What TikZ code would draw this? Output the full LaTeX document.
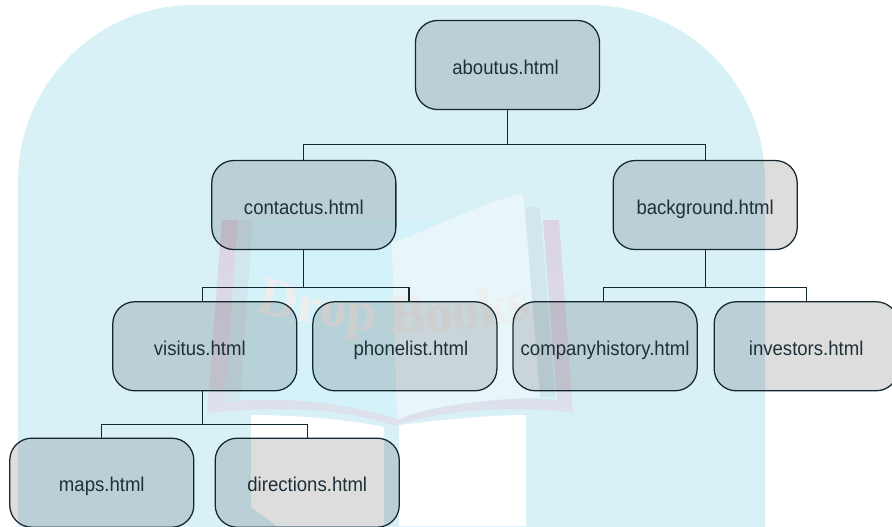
\documentclass[tikz,border=0pt]{standalone}
\usepackage{fontspec}
\usetikzlibrary{decorations.text}
\setmainfont[FakeStretch=0.93]{Liberation Sans}
\newfontfamily\stampfont{Liberation Serif}
\definecolor{myblue}{HTML}{D8F1F7}
\definecolor{mydark}{HTML}{14272E}
\definecolor{mytext}{HTML}{1E3038}
\definecolor{mypinktop}{HTML}{DCD4E2}
\definecolor{mypinkend}{HTML}{DDE2EC}
\definecolor{mypage}{HTML}{D4F2FA}
\definecolor{mysheet}{HTML}{E8F6FA}
\definecolor{myedge}{HTML}{D2E7ED}
\definecolor{mystamp}{HTML}{EDEFEF}
\tikzstyle{block} = [rectangle, draw=mydark, fill=black, fill opacity=0.135, draw opacity=1, text opacity=1, text=mytext, align=center, rounded corners=0.55cm, minimum width=4.6cm, minimum height=2.225cm, line width=0.9pt, font=\fontsize{14.2}{16}\selectfont, text height=0.45cm, text depth=0pt]
\tikzstyle{line} = [draw=mydark, line width=0.9pt]

\begin{document}
\begin{tikzpicture}[x=0.025cm, y=-0.025cm, node distance=3.5cm]
    \clip (0,0) rectangle (892,526);

    % backdrop
    \fill[myblue, rounded corners=4.4cm] (18,5) rectangle (765,800);
    \fill[white] (251,415) .. controls (300,415) and (350,420) .. (384,427) -- (384,526) -- (277,526) -- (251,507) -- cycle;
    \fill[white] (399,425) .. controls (440,420) and (490,415) .. (526,415) -- (526,526) -- (399,526) -- cycle;
    \shade[top color=mypinktop, bottom color=mypinkend] (222,220) -- (207,413) .. controls (290,405) and (350,410) .. (395,426) .. controls (440,410) and (510,405) .. (573,413) -- (559,220) -- cycle;
    \fill[mypage] (238,220) -- (225,402) .. controls (290,395) and (350,405) .. (395,418) .. controls (440,405) and (510,395) .. (557,400) -- (543,220) -- cycle;
    \fill[myedge] (238,220) -- (253,220) -- (240,400) -- (225,402) -- cycle;
    \fill[myedge] (525,207) -- (540,207) -- (555,397) -- (540,397) -- cycle;
    \fill[mysheet] (392,243) .. controls (440,225) and (490,200) .. (523,193) -- (540,397) .. controls (480,400) and (430,405) .. (397,420) -- cycle;
    \path[decorate, decoration={text along path, text align=center, text color=mystamp,
        text={|\stampfont\bfseries\fontsize{39}{40}\selectfont|Drop Books}}]
        (248,310) .. controls (325,330) and (430,345) .. (540,316);

    % Nodes
    \node [block] (aboutus) at (507.5,65) {aboutus.html\hspace*{0.1cm}};
    \node [block, below of=aboutus, xshift=-5.09cm] (contactus) {contactus.html};
    \node [block, below of=aboutus, xshift=4.94cm] (background) {background.html};
    \node [block, below of=contactus, xshift=-2.475cm, yshift=-0.03cm] (visitus) {visitus.html\hspace*{0.25cm}};
    \node [block, below of=contactus, xshift=2.525cm, yshift=-0.03cm] (phonelist) {\hspace*{0.3cm}phonelist.html};
    \node [block, below of=background, xshift=-2.5cm, yshift=-0.03cm] (companyhistory) {companyhistory.html};
    \node [block, below of=background, xshift=2.525cm, yshift=-0.03cm] (investors) {investors.html};
    \node [block, below of=visitus, xshift=-2.575cm, yshift=0.09cm] (maps) {maps.html};
    \node [block, below of=visitus, xshift=2.56cm, yshift=0.09cm] (directions) {directions.html};

    % connectors
    \draw[line] (aboutus.south) -- ++(0,34) -| (contactus.north);
    \draw[line] (aboutus.south) -- ++(0,34) -| (background.north);
    \draw[line] (contactus.south) -- ++(0,37) -| ([xshift=-0.05cm]visitus.north);
    \draw[line] (contactus.south) -- ++(0,37) -| ([xshift=0.1cm]phonelist.north);
    \draw[line] (background.south) -- ++(0,37) -| ([xshift=-0.05cm]companyhistory.north);
    \draw[line] (background.south) -- ++(0,37) -| (investors.north);
    \draw[line] ([xshift=-0.05cm]visitus.south) -- ++(0,33) -| (maps.north);
    \draw[line] ([xshift=-0.05cm]visitus.south) -- ++(0,33) -| (directions.north);
\end{tikzpicture}
\end{document}
